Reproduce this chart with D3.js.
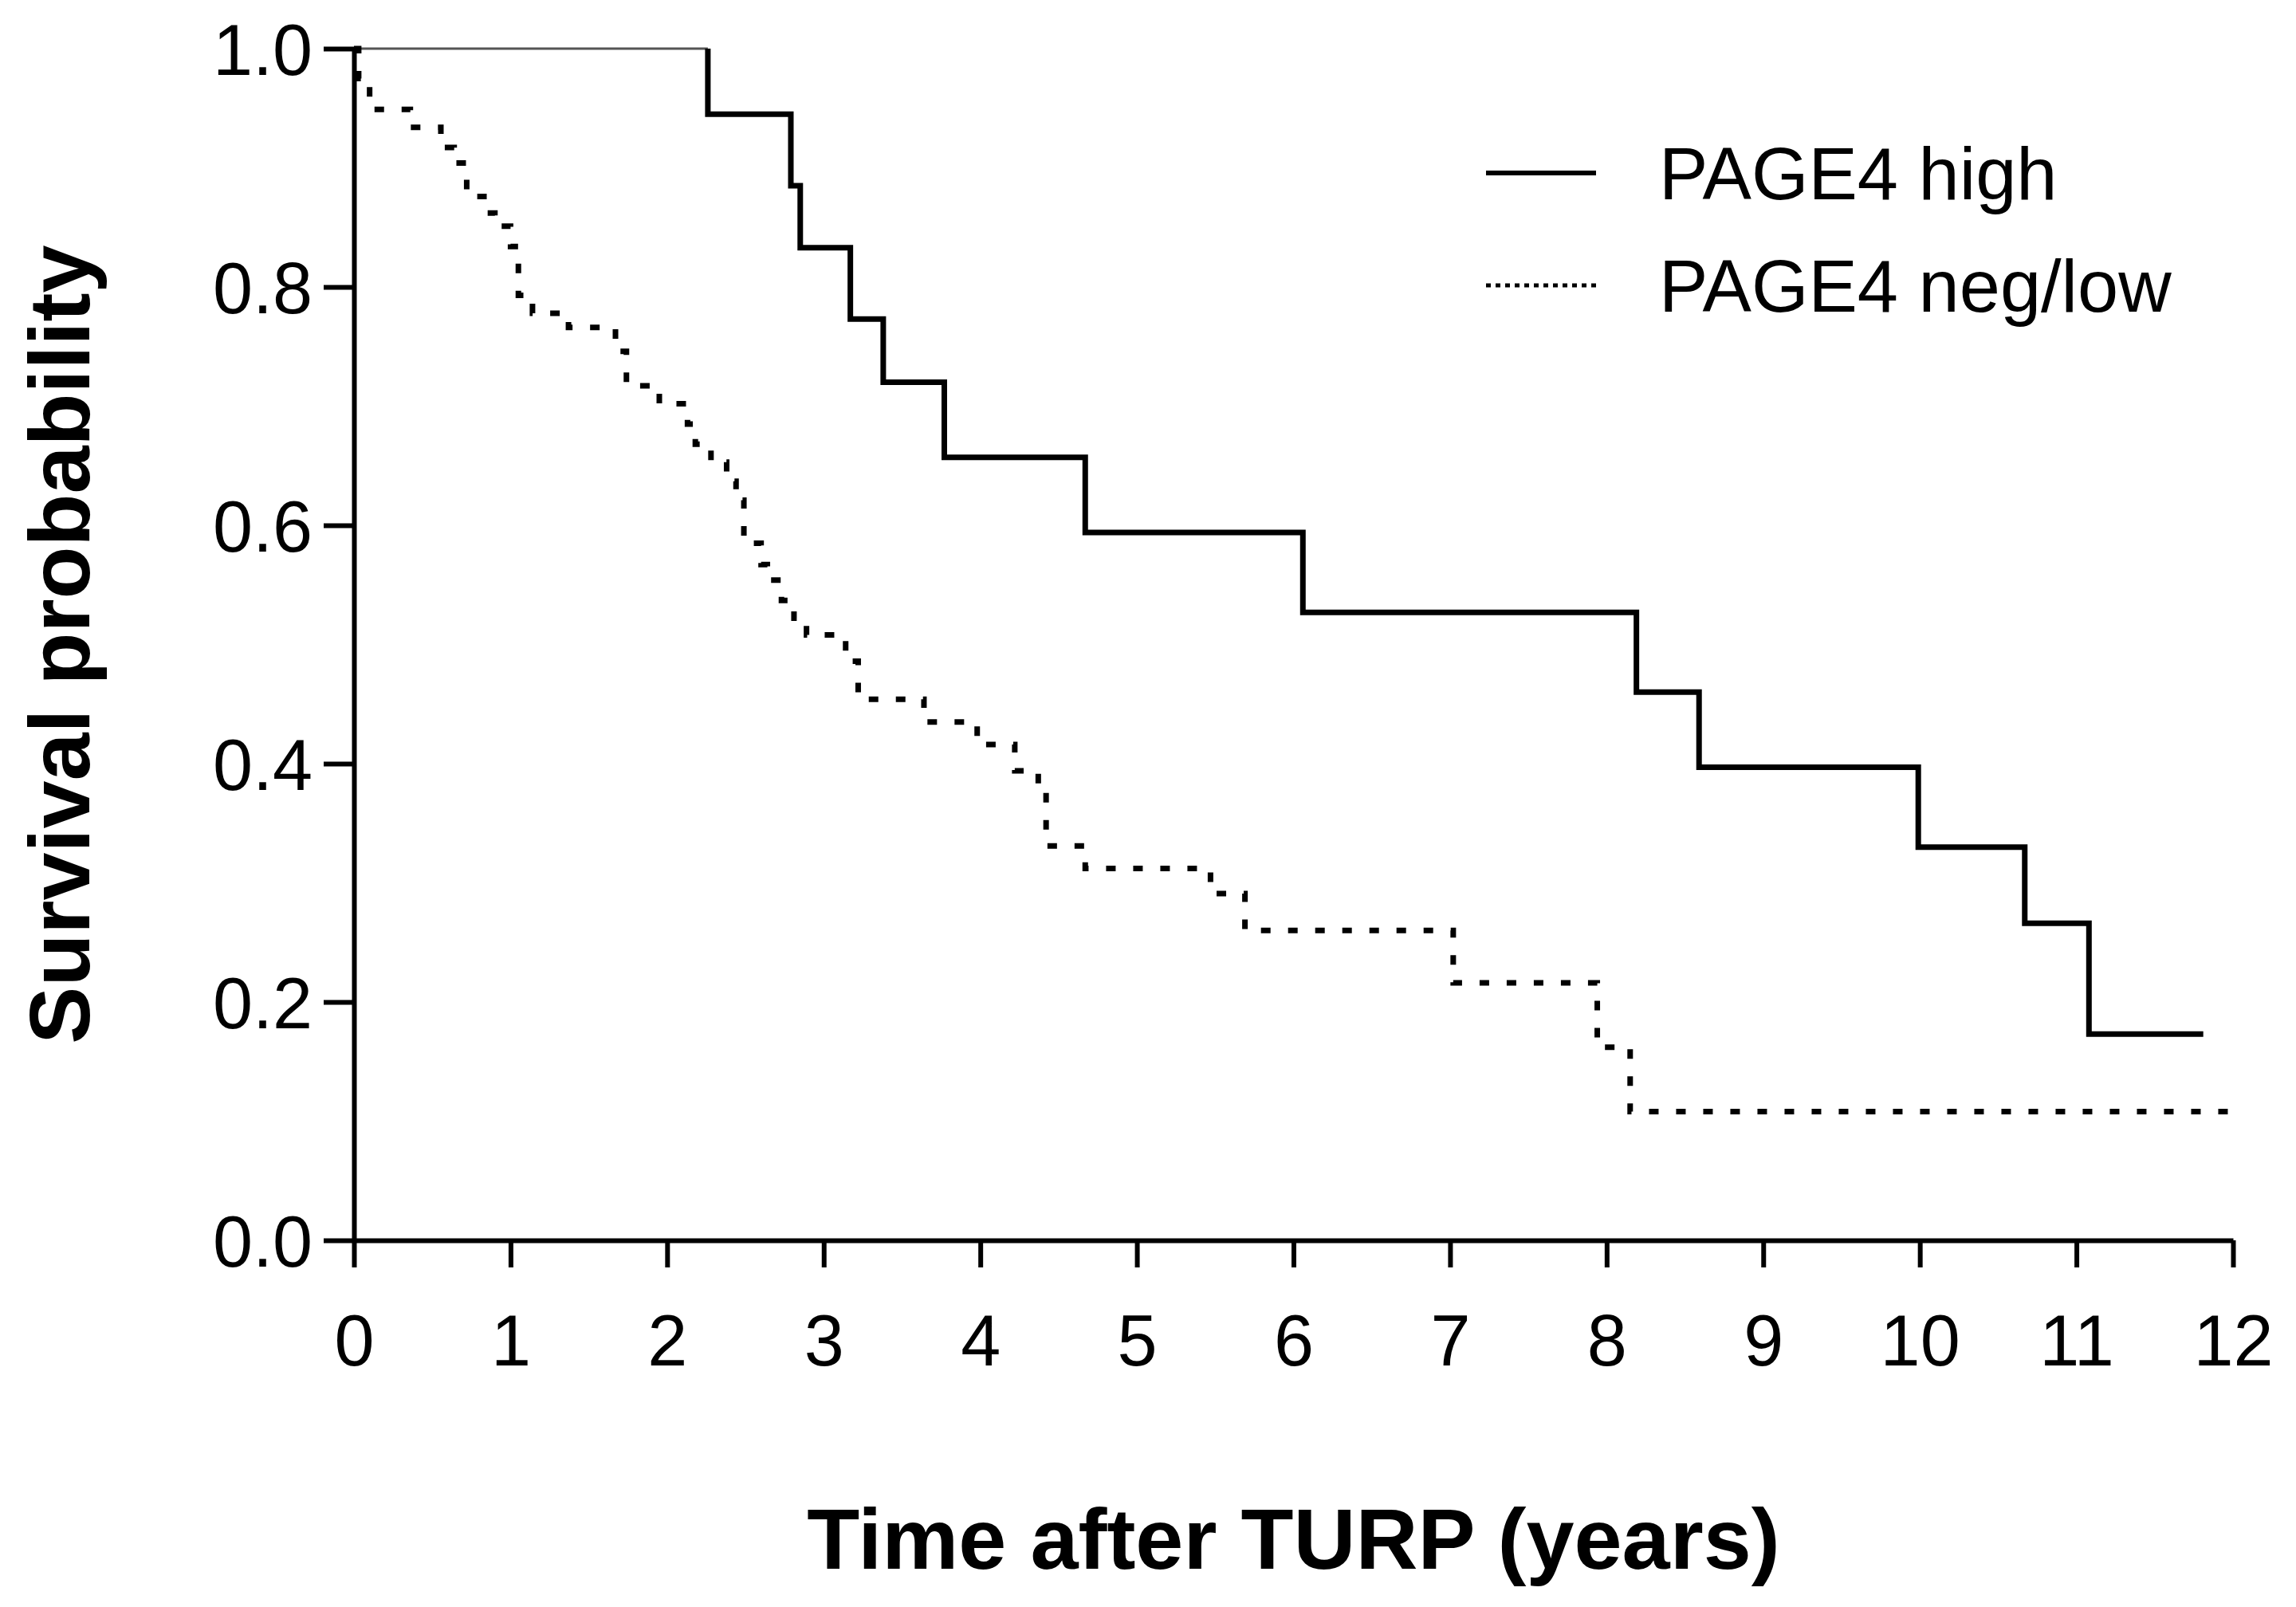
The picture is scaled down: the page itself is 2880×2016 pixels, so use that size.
<!DOCTYPE html>
<html><head><meta charset="utf-8">
<script src="https://cdn.jsdelivr.net/npm/d3@7"></script>
<style>body{margin:0;background:#fff}svg{display:block}</style>
</head><body>
<script>
const highT = [0, 2.26, 2.79, 2.85, 3.17, 3.38, 3.77, 4.67, 6.06, 8.19, 8.59, 9.99, 10.67, 11.08, 11.81];
const highS = [1.0, 0.945, 0.885, 0.833, 0.773, 0.72, 0.657, 0.594, 0.527, 0.46, 0.397, 0.33, 0.266, 0.173, 0.173];
const lowT = [0, 0.03, 0.1, 0.36, 0.555, 0.64, 0.72, 0.83, 0.9, 1.0, 1.05, 1.14, 1.37, 1.67, 1.74, 1.95, 2.13, 2.18, 2.28, 2.38, 2.44, 2.49, 2.6, 2.64, 2.73, 2.81, 2.89, 3.14, 3.22, 3.64, 3.98, 4.22, 4.37, 4.42, 4.67, 5.47, 5.69, 7.02, 7.94, 8.15, 11.98];
const lowS = [1.0, 0.975, 0.949, 0.934, 0.917, 0.904, 0.876, 0.862, 0.851, 0.834, 0.793, 0.778, 0.766, 0.746, 0.717, 0.702, 0.685, 0.668, 0.653, 0.637, 0.621, 0.585, 0.567, 0.554, 0.537, 0.522, 0.508, 0.486, 0.454, 0.435, 0.416, 0.394, 0.373, 0.331, 0.312, 0.291, 0.26, 0.216, 0.162, 0.108, 0.108];
const xTicks = [0,1,2,3,4,5,6,7,8,9,10,11,12];
const yTicks = [0.0,0.2,0.4,0.6,0.8,1.0];
const legendLabels = ["PAGE4 high", "PAGE4 neg/low"];

const W = 2880, H = 2016;
const svg = d3.select("body").append("svg").attr("width", W).attr("height", H);
const x = d3.scaleLinear().domain([0,12]).range([444, 2801]);
const y = d3.scaleLinear().domain([0,1]).range([1556, 61]);
const font = "Liberation Sans, Arial, sans-serif";

const xa = svg.append("g").attr("transform", `translate(0,${y(0)})`)
  .call(d3.axisBottom(x).tickValues(xTicks).tickSize(34).tickSizeOuter(0).tickFormat(d3.format("d")));
const ya = svg.append("g").attr("transform", `translate(${x(0)},0)`)
  .call(d3.axisLeft(y).tickValues(yTicks).tickSize(38).tickSizeOuter(0).tickFormat(d3.format(".1f")));
[xa, ya].forEach(a => {
  a.selectAll("path, line").attr("stroke", "#000").attr("stroke-width", 6);
  a.selectAll("text").attr("font-family", font).attr("font-size", 90).attr("fill", "#000");
});
xa.selectAll("text").attr("dy", "1.05em").attr("y", 62);
ya.selectAll("text").attr("x", -52).attr("dy", "0.36em");

const toPts = (T, S) => T.map((t, i) => [t, S[i]]);
const line = d3.line().x(d => x(d[0])).y(d => y(d[1])).curve(d3.curveStepAfter);
const hp = toPts(highT, highS);
svg.append("path").attr("d", line([hp[0], [highT[1], highS[0]]]))
  .attr("fill", "none").attr("stroke", "#555").attr("stroke-width", 3);
svg.append("path").attr("d", line([[highT[1], highS[0]]].concat(hp.slice(1))))
  .attr("fill", "none").attr("stroke", "#000").attr("stroke-width", 7);
svg.append("path").attr("d", line(toPts(lowT, lowS)))
  .attr("fill", "none").attr("stroke", "#000").attr("stroke-width", 7).attr("stroke-dasharray", "12,22");

const lg = svg.append("g");
legendLabels.forEach((lab, i) => {
  const yy = 217 + i * 141;
  lg.append("line").attr("x1", 1864).attr("x2", 2002).attr("y1", yy).attr("y2", yy)
    .attr("stroke", "#000").attr("stroke-width", i ? 5 : 6).attr("stroke-dasharray", i ? "6,6" : null);
  lg.append("text").attr("x", 2081).attr("y", yy).attr("dy", "0.36em")
    .attr("font-family", font).attr("font-size", 92).text(lab);
});

svg.append("text").attr("x", (x(0)+x(12))/2).attr("y", 1968).attr("text-anchor", "middle")
  .attr("font-family", font).attr("font-weight", "bold").attr("font-size", 108).text("Time after TURP (years)");
svg.append("text").attr("transform", `translate(112,${y(0.5)}) rotate(-90)`).attr("text-anchor", "middle")
  .attr("font-family", font).attr("font-weight", "bold").attr("font-size", 108).text("Survival probability");
</script>
</body></html>
